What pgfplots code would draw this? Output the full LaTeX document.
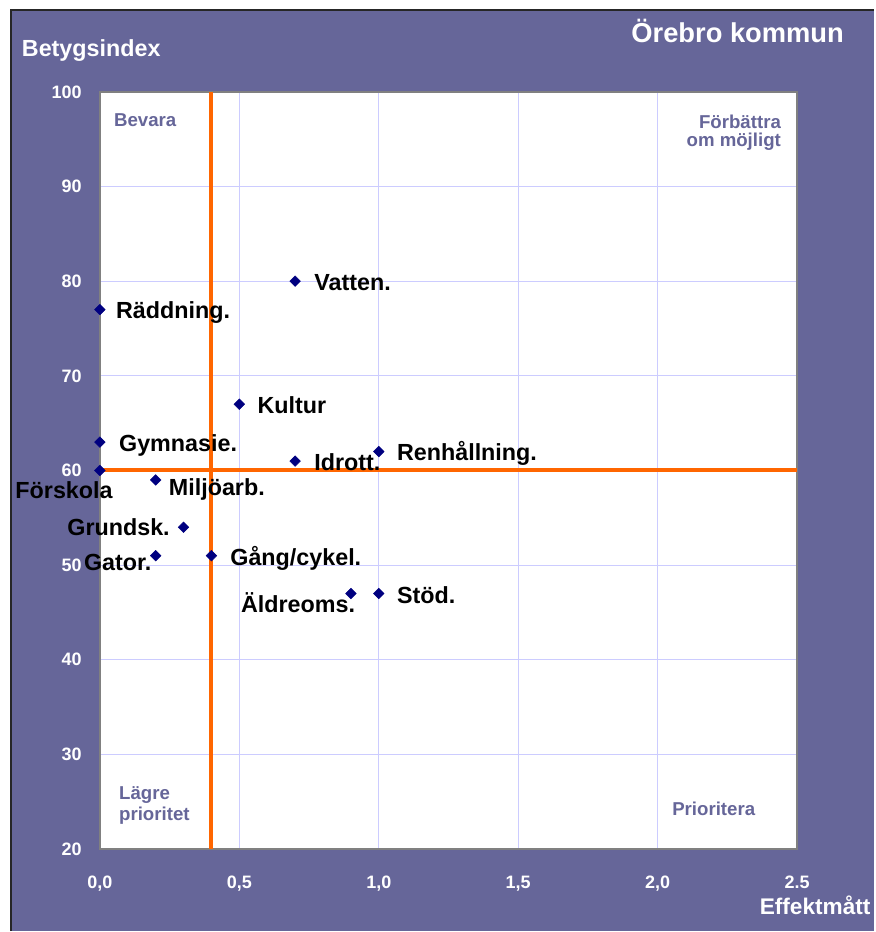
\documentclass[border=0pt]{standalone}
\usepackage{pgfplots}
\pgfplotsset{compat=1.18}
\usepackage{fontspec}
\setmainfont{Liberation Sans}
\definecolor{bgpurple}{HTML}{666699}
\definecolor{gridc}{HTML}{CCCCFF}
\definecolor{orng}{HTML}{FF6600}
\definecolor{navyc}{HTML}{000080}
\tikzset{lbl/.style={font=\fontsize{17.5}{20}\selectfont\bfseries, inner sep=0pt, text=black}}
\begin{document}
\begin{tikzpicture}
\begin{scope}[x=0.75pt,y=0.75pt]
\fill[white] (0,0) rectangle (875,932);
\fill[bgpurple] (11,0) rectangle (875,922);
\draw[black!85, line width=1.5pt] (11,0) -- (11,922) -- (875,922);
\end{scope}
\begin{axis}[
  at={(75pt,61.5pt)}, anchor=south west,
  width=523.5pt, height=568.5pt, scale only axis,
  xmin=0, xmax=2.5, ymin=20, ymax=100,
  xtick={0,0.5,1,1.5,2,2.5},
  xticklabels={{0,0},{0,5},{1,0},{1,5},{2,0},{2.5}},
  ytick={20,30,40,50,60,70,80,90,100},
  yticklabels={20,30,40,50,60,70,80,90,100},
  major tick length=0pt,
  grid=major,
  major grid style={draw=gridc, line width=0.75pt},
  axis line style={draw=gray, line width=1.2pt},
  axis background/.style={fill=white},
  tick label style={font=\fontsize{13.5}{15}\selectfont\bfseries, text=white, inner sep=0pt},
  yticklabel style={anchor=east, xshift=-13.5pt},
  xticklabel style={anchor=base, yshift=-29.5pt},
  clip=false,
]
\addplot[orng, line width=3pt] coordinates {(0.4,20) (0.4,100)};
\addplot[orng, line width=3pt] coordinates {(0,60) (2.5,60)};
\addplot[only marks, mark=square*, mark size=2.8pt, mark options={rotate=45, fill=navyc, draw=navyc}] coordinates {
(0.7,80) (0,77) (0.5,67) (0,63) (1.0,62) (0.7,61) (0,60) (0.2,59) (0.3,54) (0.2,51) (0.4,51) (0.9,47) (1.0,47)
};
\node[lbl, anchor=base west, xshift=14.25pt, yshift=-7pt] at (axis cs:0.7,80) {Vatten.};
\node[lbl, anchor=base west, xshift=12pt, yshift=-7pt] at (axis cs:0,77) {Räddning.};
\node[lbl, anchor=base west, xshift=13.5pt, yshift=-7pt] at (axis cs:0.5,67) {Kultur};
\node[lbl, anchor=base west, xshift=14.25pt, yshift=-7pt] at (axis cs:0,63) {Gymnasie.};
\node[lbl, anchor=base west, xshift=13.5pt, yshift=-7pt] at (axis cs:1.0,62) {Renhållning.};
\node[lbl, anchor=base west, xshift=14.25pt, yshift=-7pt] at (axis cs:0.7,61) {Idrott.};
\node[lbl, anchor=base east, xshift=9.75pt, yshift=-21.4pt] at (axis cs:0,60) {Förskola};
\node[lbl, anchor=base west, xshift=9.75pt, yshift=-11.6pt] at (axis cs:0.2,59) {Miljöarb.};
\node[lbl, anchor=base east, xshift=-10.2pt, yshift=-6.3pt] at (axis cs:0.3,54) {Grundsk.};
\node[lbl, anchor=base east, xshift=-3pt, yshift=-11.25pt] at (axis cs:0.2,51) {Gator.};
\node[lbl, anchor=base west, xshift=14pt, yshift=-7pt] at (axis cs:0.4,51) {Gång/cykel.};
\node[lbl, anchor=base east, xshift=3.3pt, yshift=-14.5pt] at (axis cs:0.9,47) {Äldreoms.};
\node[lbl, anchor=base west, xshift=13.5pt, yshift=-7.5pt] at (axis cs:1.0,47) {Stöd.};
\end{axis}
\begin{scope}[x=0.75pt,y=0.75pt, q/.style={font=\fontsize{14}{16}\selectfont\bfseries, text=bgpurple, inner sep=0pt},
  t/.style={font=\fontsize{17.5}{20}\selectfont\bfseries, text=white, inner sep=0pt}]
\node[q, anchor=base west] at (114,805) {Bevara};
\node[q, anchor=base east] at (782,803.7) {Förbättra};
\node[q, anchor=base east] at (782,785.3) {om möjligt};
\node[q, anchor=base west] at (119,132) {Lägre};
\node[q, anchor=base west] at (119,110.3) {prioritet};
\node[q, anchor=base west] at (672.7,116) {Prioritera};
\node[t, anchor=base west] at (21.7,875.3) {Betygsindex};
\node[t, anchor=base east, font=\fontsize{20.5}{23}\selectfont\bfseries] at (845,889.7) {Örebro kommun};
\node[t, anchor=base east, font=\fontsize{17}{20}\selectfont\bfseries] at (871.7,17) {Effektmått};
\end{scope}
\end{tikzpicture}
\end{document}
